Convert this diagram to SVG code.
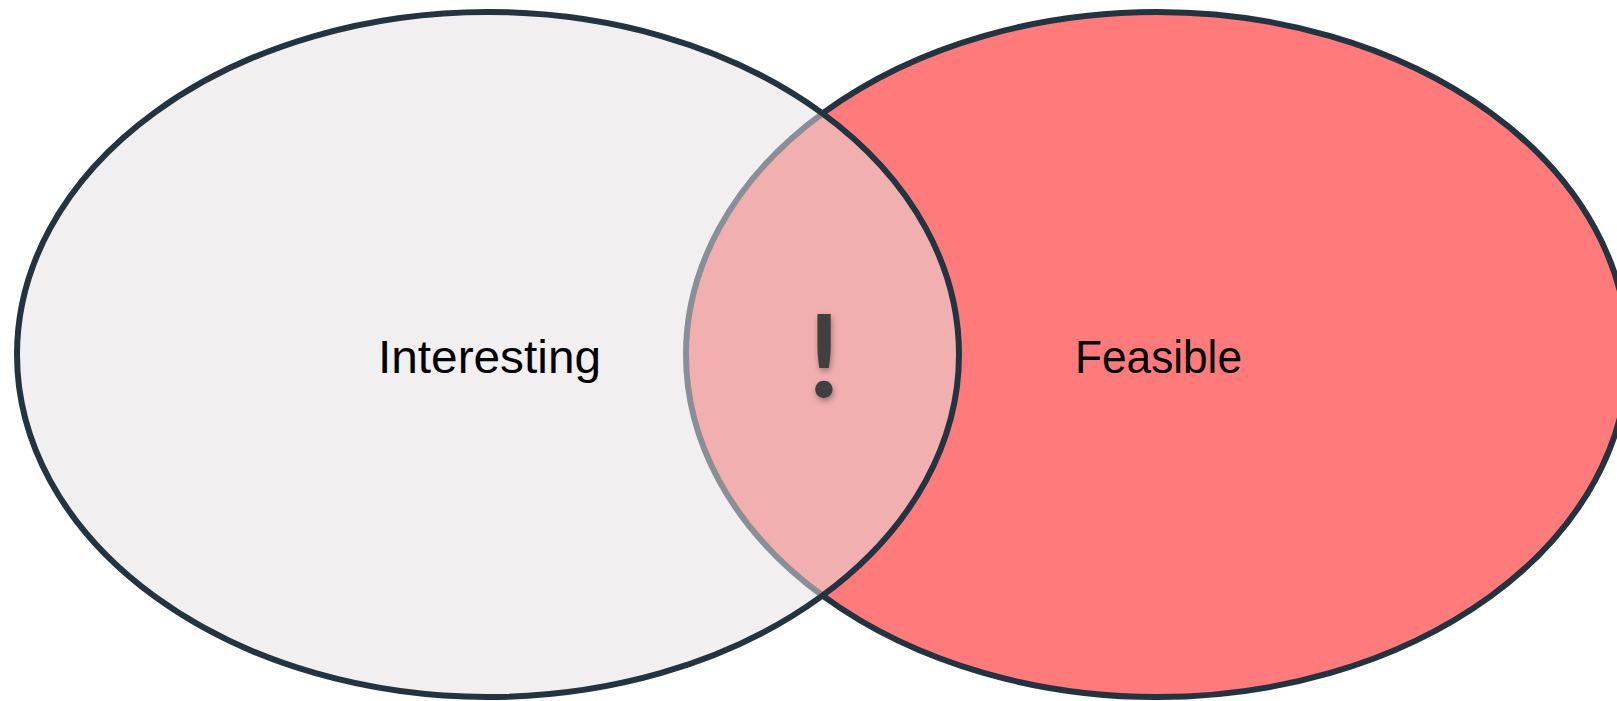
<svg xmlns="http://www.w3.org/2000/svg" width="1617" height="701" viewBox="0 0 1617 701">
<style>
.lbl{font-family:"Liberation Sans",Arial,sans-serif;font-size:46px;fill:#000;text-anchor:middle}
.bang{font-family:Lato,"Liberation Sans",sans-serif;font-weight:bold;font-size:114px;fill:#404040;text-anchor:middle}
</style>
<defs>
<clipPath id="clipLeft"><ellipse cx="488" cy="354.5" rx="471" ry="342.5"/></clipPath>
<filter id="sh" x="-50%" y="-20%" width="200%" height="140%">
<feDropShadow dx="1" dy="3" stdDeviation="3" flood-color="#000" flood-opacity="0.35"/>
</filter>
</defs>
<rect width="1617" height="701" fill="#fff"/>
<g id="feasible">
<ellipse cx="1157" cy="354.5" rx="471" ry="342.5" fill="#FF7A7A" stroke="#243340" stroke-width="6"/>
</g>
<g id="interesting">
<ellipse cx="488" cy="354.5" rx="471" ry="342.5" fill="#F1EFF0"/>
<ellipse cx="1157" cy="354.5" rx="471" ry="342.5" fill="#F2AFB0" clip-path="url(#clipLeft)"/>
<ellipse cx="1157" cy="354.5" rx="471" ry="342.5" fill="none" stroke="#8A8F95" stroke-width="6" clip-path="url(#clipLeft)"/>
<ellipse cx="488" cy="354.5" rx="471" ry="342.5" fill="none" stroke="#243340" stroke-width="6"/>
</g>
<g id="labels">
<text class="lbl" x="489.5" y="373" textLength="223" lengthAdjust="spacingAndGlyphs">Interesting</text>
<text class="lbl" x="1158.5" y="373" textLength="167" lengthAdjust="spacingAndGlyphs">Feasible</text>
<text class="bang" x="824" y="397" filter="url(#sh)">!</text>
</g>
</svg>
